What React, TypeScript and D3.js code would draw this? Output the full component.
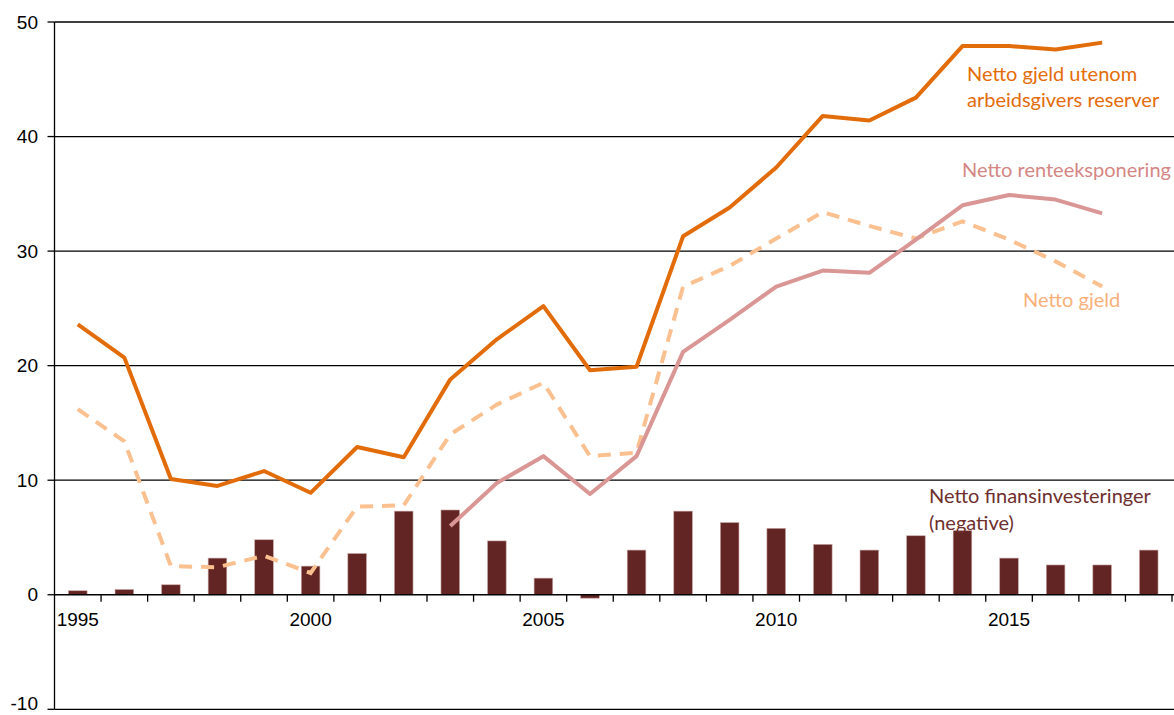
import React from "react";
import * as d3 from "d3";

const years = d3.range(1995, 2019).map(String);
const tickLabelYears = ["1995", "2000", "2005", "2010", "2015"];
const yTicks = [-10, 0, 10, 20, 30, 40, 50];

// Netto gjeld utenom arbeidsgivers reserver (1995-2017)
const gjeldUtenom = [23.6, 20.7, 10.1, 9.5, 10.8, 8.9, 12.9, 12.0, 18.8, 22.3, 25.2, 19.6, 19.9, 31.3, 33.8, 37.3, 41.8, 41.4, 43.4, 47.9, 47.9, 47.6, 48.2];
// Netto gjeld (1995-2017)
const nettoGjeld = [16.2, 13.4, 2.5, 2.4, 3.4, 1.9, 7.7, 7.8, 14.0, 16.6, 18.5, 12.1, 12.4, 26.9, 28.7, 31.1, 33.4, 32.2, 31.1, 32.6, 31.0, 29.1, 26.9];
// Netto renteeksponering (2003-2017)
const renteYears = d3.range(2003, 2018).map(String);
const renteeksponering = [6.0, 9.75, 12.1, 8.8, 12.1, 21.2, 24.0, 26.9, 28.3, 28.1, 31.0, 34.0, 34.9, 34.5, 33.3];
// Netto finansinvesteringer (negative) (1995-2018)
const finansinv = [0.35, 0.46, 0.87, 3.2, 4.8, 2.5, 3.6, 7.3, 7.4, 4.7, 1.45, -0.3, 3.9, 7.3, 6.3, 5.8, 4.4, 3.9, 5.15, 5.6, 3.2, 2.6, 2.6, 3.9];

const W = 1174;
const H = 715;
const LEFT = 54.5;
const RIGHT = 1172;

export default function App() {
  const x = d3.scaleBand<string>().domain(years).range([LEFT, RIGHT]).padding(0);
  const y = d3.scaleLinear().domain([-10, 50]).range([709.3, 22]);
  const bw = x.bandwidth();
  const cx = (yr: string) => (x(yr) as number) + bw / 2;

  const line = d3
    .line<[string, number]>()
    .x((d) => cx(d[0]))
    .y((d) => y(d[1]));

  const lineYears = years.slice(0, gjeldUtenom.length);
  const utenomPath = line(lineYears.map((yr, i) => [yr, gjeldUtenom[i]]));
  const gjeldPath = line(lineYears.map((yr, i) => [yr, nettoGjeld[i]]));
  const rentePath = line(renteYears.map((yr, i) => [yr, renteeksponering[i]]));

  const barW = bw * 0.4;
  const axisFont = "Liberation Sans, Arial, sans-serif";
  const labelFont = "Lato, 'Open Sans', sans-serif";

  return (
    <svg width={W} height={H} style={{ position: "absolute", left: 0, top: 0 }}>
      <rect x={0} y={0} width={W} height={H} fill="#fff" />
      {/* gridlines */}
      {yTicks.filter((t) => t !== 0).map((t) => (
        <line key={"g" + t} x1={LEFT} x2={W} y1={y(t)} y2={y(t)} stroke="#000" strokeWidth={1.3} />
      ))}
      {/* y ticks and labels */}
      {yTicks.map((t) => (
        <g key={"yt" + t}>
          <line x1={LEFT - 7} x2={LEFT} y1={y(t)} y2={y(t)} stroke="#000" strokeWidth={1.3} />
          <text
            x={38}
            y={Math.min(y(t) + 6.7, H - 5)}
            textAnchor="end"
            fontFamily={axisFont}
            fontSize={19}
            fill="#000"
          >
            {t}
          </text>
        </g>
      ))}
      {/* bars */}
      {years.map((yr, i) => {
        const v = finansinv[i];
        const y0 = y(0);
        const y1 = y(v);
        return (
          <rect
            key={"b" + yr}
            x={cx(yr) - barW / 2}
            y={Math.min(y0, y1)}
            width={barW}
            height={Math.abs(y1 - y0)}
            fill="#632523"
            stroke="#c9a7a6"
            strokeWidth={0.6}
          />
        );
      })}
      {/* y axis line */}
      <line x1={LEFT} x2={LEFT} y1={y(50)} y2={y(-10)} stroke="#000" strokeWidth={1.3} />
      {/* x axis at zero */}
      <line x1={LEFT} x2={W} y1={y(0)} y2={y(0)} stroke="#000" strokeWidth={1.3} />
      {years.map((yr) => (
        <line
          key={"xt" + yr}
          x1={(x(yr) as number) + bw}
          x2={(x(yr) as number) + bw}
          y1={y(0)}
          y2={y(0) + 7}
          stroke="#000"
          strokeWidth={1.3}
        />
      ))}
      {tickLabelYears.map((yr) => (
        <text key={"xl" + yr} x={cx(yr)} y={626} textAnchor="middle" fontFamily={axisFont} fontSize={19} fill="#000">
          {yr}
        </text>
      ))}
      {/* lines */}
      <path d={gjeldPath || ""} fill="none" stroke="#FAC090" strokeWidth={4} strokeDasharray="13 9" />
      <path d={rentePath || ""} fill="none" stroke="#D99694" strokeWidth={4} strokeLinejoin="round" />
      <path d={utenomPath || ""} fill="none" stroke="#E36C0A" strokeWidth={4} strokeLinejoin="round" />
      {/* labels */}
      <text fontFamily={labelFont} fontSize={20} fill="#E36C0A">
        <tspan x={967} y={81}>Netto gjeld utenom</tspan>
        <tspan x={967} y={107}>arbeidsgivers reserver</tspan>
      </text>
      <text x={962} y={177} fontFamily={labelFont} fontSize={20} fill="#D48684">
        Netto renteeksponering
      </text>
      <text x={1023} y={307} fontFamily={labelFont} fontSize={20} fill="#F9B07A">
        Netto gjeld
      </text>
      <text fontFamily={labelFont} fontSize={20} fill="#6E2F2E">
        <tspan x={929} y={503}>Netto finansinvesteringer</tspan>
        <tspan x={929} y={530}>(negative)</tspan>
      </text>
    </svg>
  );
}
